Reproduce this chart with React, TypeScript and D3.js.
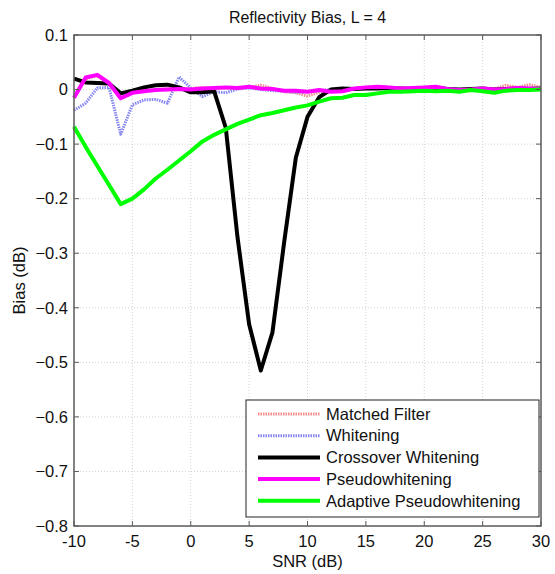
import React, { useRef, useEffect } from 'react';
import * as d3 from 'd3';

// SNR samples (dB)
const snr = [-10, -9, -8, -7, -6, -5, -4, -3, -2, -1, 0, 1, 2, 3, 4, 5, 6, 7, 8, 9, 10,
  11, 12, 13, 14, 15, 16, 17, 18, 19, 20, 21, 22, 23, 24, 25, 26, 27, 28, 29, 30];

const matchedFilter = [-0.014, 0.02, 0.025, 0.011, -0.015, -0.006, -0.002, 0.0, 0.001, 0.002, 0.002,
  0.004, 0.001, 0.003, 0.002, 0.004, 0.008, 0.002, -0.004, -0.006, -0.012,
  -0.005, -0.002, 0.0, 0.002, 0.003, 0.004, 0.003, 0.002, 0.002, 0.003,
  0.004, 0.001, 0.0, 0.0, 0.001, 0.001, 0.008, 0.004, 0.009, 0.004];

const whitening = [-0.038, -0.025, 0.003, 0.004, -0.082, -0.028, -0.019, -0.018, -0.025, 0.023, 0.003,
  -0.013, -0.004, -0.006, 0.001, 0.003, 0.0, -0.002, -0.003, -0.005, -0.004,
  -0.002, 0.0, 0.001, 0.002, 0.002, 0.003, 0.002, 0.001, 0.002, 0.003,
  0.002, 0.0, -0.001, 0.0, 0.001, 0.0, 0.002, 0.002, 0.003, 0.002];

const crossover = [0.02, 0.013, 0.012, 0.011, -0.007, -0.002, 0.004, 0.008, 0.009, 0.004, -0.005,
  -0.005, -0.003, -0.07, -0.27, -0.43, -0.515, -0.445, -0.28, -0.125, -0.05,
  -0.014, 0.0, 0.002, 0.001, 0.002, 0.002, 0.003, 0.002, 0.001, 0.002,
  0.003, 0.001, 0.0, 0.001, 0.002, 0.0, 0.001, 0.002, 0.001, 0.002];

const pseudo = [-0.015, 0.022, 0.027, 0.012, -0.016, -0.006, -0.003, -0.001, 0.0, 0.001, 0.0,
  0.002, 0.003, 0.004, 0.003, 0.005, 0.002, 0.001, -0.002, -0.002, -0.004,
  -0.001, -0.004, -0.003, 0.002, 0.004, 0.005, 0.004, 0.002, 0.003, 0.004,
  0.005, 0.001, -0.001, 0.0, 0.002, 0.0, 0.001, 0.003, 0.002, 0.001];

const adaptive = [-0.068, -0.105, -0.14, -0.175, -0.21, -0.2, -0.183, -0.163, -0.147, -0.13, -0.113,
  -0.095, -0.083, -0.073, -0.063, -0.055, -0.047, -0.043, -0.038, -0.033, -0.029,
  -0.022, -0.016, -0.015, -0.01, -0.01, -0.007, -0.004, -0.004, -0.003, -0.002,
  -0.003, -0.002, -0.004, -0.001, -0.003, -0.006, -0.002, -0.001, -0.001, 0.0];

const xTicks = [-10, -5, 0, 5, 10, 15, 20, 25, 30];
const yTicks = [0.1, 0, -0.1, -0.2, -0.3, -0.4, -0.5, -0.6, -0.7, -0.8];

const series = [
  { name: 'Matched Filter', values: matchedFilter, color: '#f58c8c', width: 3, dash: '1.5,1' },
  { name: 'Whitening', values: whitening, color: '#8686f2', width: 3, dash: '1.5,1' },
  { name: 'Crossover Whitening', values: crossover, color: '#000000', width: 4, dash: null },
  { name: 'Pseudowhitening', values: pseudo, color: '#ff00ff', width: 4, dash: null },
  { name: 'Adaptive Pseudowhitening', values: adaptive, color: '#00ff00', width: 4, dash: null },
];

const W = 555;
const H = 574;
const margin = { left: 74, right: 14, top: 35, bottom: 48 };
const font = '"Liberation Sans", Arial, sans-serif';

const App = () => {
  const ref = useRef<SVGSVGElement>(null);

  useEffect(() => {
    const svg = d3.select(ref.current);
    svg.selectAll('*').remove();

    const x = d3.scaleLinear().domain([-10, 30]).range([margin.left, W - margin.right]);
    const y = d3.scaleLinear().domain([-0.8, 0.1]).range([H - margin.bottom, margin.top]);
    const [x0, x1] = x.range();
    const [y0, y1] = y.range();

    svg.append('rect').attr('width', W).attr('height', H).attr('fill', '#fff');

    // dotted grid
    const grid = svg.append('g').attr('stroke', '#d2d2d2').attr('stroke-width', 1).attr('stroke-dasharray', '1,2');
    xTicks.slice(1, -1).forEach(t => {
      grid.append('line').attr('x1', x(t)).attr('x2', x(t)).attr('y1', y0).attr('y2', y1);
    });
    yTicks.slice(1, -1).forEach(t => {
      grid.append('line').attr('x1', x0).attr('x2', x1).attr('y1', y(t)).attr('y2', y(t));
    });

    // curves
    const line = d3.line<number>().x((_, i) => x(snr[i])).y(d => y(d));
    series.forEach(s => {
      svg.append('path')
        .datum(s.values)
        .attr('d', line)
        .attr('fill', 'none')
        .attr('stroke', s.color)
        .attr('stroke-width', s.width)
        .attr('stroke-linejoin', 'round')
        .attr('stroke-dasharray', s.dash);
    });

    // axes box + inward ticks
    const axisColor = '#5a5a5a';
    svg.append('rect')
      .attr('x', x0).attr('y', y1).attr('width', x1 - x0).attr('height', y0 - y1)
      .attr('fill', 'none').attr('stroke', axisColor).attr('stroke-width', 1.5);
    const ticks = svg.append('g').attr('stroke', axisColor).attr('stroke-width', 1);
    xTicks.forEach(t => {
      ticks.append('line').attr('x1', x(t)).attr('x2', x(t)).attr('y1', y0).attr('y2', y0 - 5);
      ticks.append('line').attr('x1', x(t)).attr('x2', x(t)).attr('y1', y1).attr('y2', y1 + 5);
    });
    yTicks.forEach(t => {
      ticks.append('line').attr('x1', x0).attr('x2', x0 + 5).attr('y1', y(t)).attr('y2', y(t));
      ticks.append('line').attr('x1', x1).attr('x2', x1 - 5).attr('y1', y(t)).attr('y2', y(t));
    });

    // tick labels
    const txt = svg.append('g').attr('font-family', font).attr('font-size', 16.5).attr('fill', '#111');
    xTicks.forEach(t => {
      txt.append('text').attr('x', x(t)).attr('y', y0 + 21).attr('text-anchor', 'middle').text(String(t));
    });
    yTicks.forEach(t => {
      txt.append('text').attr('x', x0 - 6).attr('y', y(t)).attr('dy', '0.35em')
        .attr('text-anchor', 'end').text(d3.format('.1~f')(t));
    });

    // titles
    txt.append('text').attr('x', (x0 + x1) / 2).attr('y', 23).attr('text-anchor', 'middle')
      .attr('font-size', 16).text('Reflectivity Bias, L = 4');
    txt.append('text').attr('x', (x0 + x1) / 2).attr('y', 567).attr('text-anchor', 'middle')
      .text('SNR (dB)');
    txt.append('text').attr('transform', `translate(25,${(y0 + y1) / 2}) rotate(-90)`)
      .attr('text-anchor', 'middle').text('Bias (dB)');

    // legend
    const lg = svg.append('g').attr('transform', 'translate(246,400)');
    lg.append('rect').attr('width', 293).attr('height', 117).attr('fill', '#fff')
      .attr('stroke', '#222').attr('stroke-width', 1);
    series.forEach((s, i) => {
      const ly = 14 + i * 21.7;
      lg.append('line').attr('x1', 12).attr('x2', 74).attr('y1', ly).attr('y2', ly)
        .attr('stroke', s.color).attr('stroke-width', s.width).attr('stroke-dasharray', s.dash);
      lg.append('text').attr('x', 80).attr('y', ly).attr('dy', '0.35em')
        .attr('font-family', font).attr('font-size', 16.5).attr('fill', '#111').text(s.name);
    });
  }, []);

  return (
    <svg ref={ref} width={W} height={H}
      style={{ position: 'absolute', left: 0, top: 0, display: 'block' }} />
  );
};

export default App;
